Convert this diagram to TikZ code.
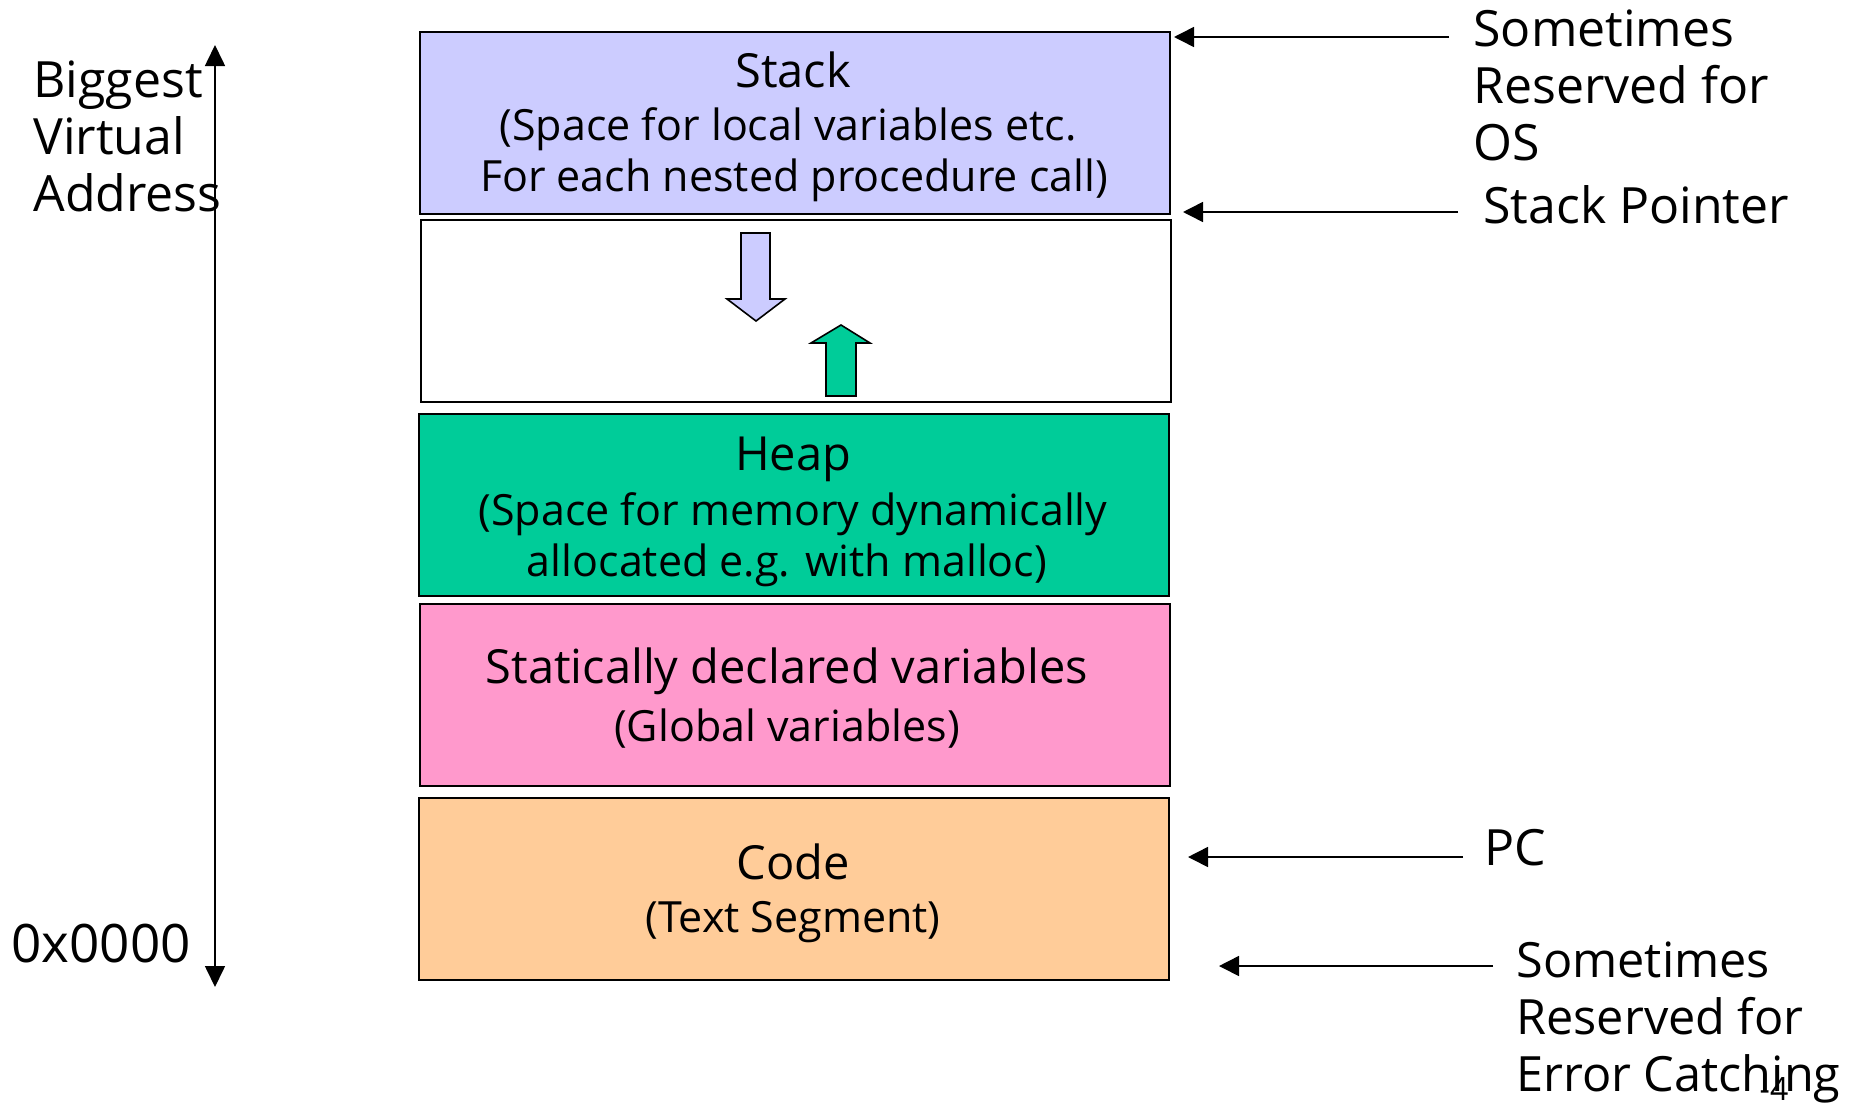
\documentclass[tikz,border=0pt]{standalone}
\usepackage{fontspec}
\setmainfont{Open Sans}
\usetikzlibrary{arrows.meta}
\definecolor{stackfill}{HTML}{CCCCFF}
\definecolor{heapfill}{HTML}{00CC99}
\definecolor{staticfill}{HTML}{FF99CC}
\definecolor{codefill}{HTML}{FFCC99}
\begin{document}
\begin{tikzpicture}[x=0.5pt,y=-0.5pt,
  segment/.style={draw=black, line width=0.8pt, minimum width=375pt, minimum height=91pt,
                  inner sep=0pt, anchor=north west},
  boxtitle/.style={inner sep=0pt, text height=16.8pt, text depth=0pt,
                   font=\fontsize{23.5}{28}\selectfont},
  boxbody/.style={inner sep=0pt, text height=15.3pt, text depth=0pt,
                  font=\fontsize{21.5}{26}\selectfont},
  side/.style={inner sep=0pt, align=left, anchor=west,
               font=\fontsize{25}{28.5}\selectfont},
  ptr/.style={line width=0.8pt, -{Triangle[length=10pt,width=10pt]}},
  blockarrow/.style={draw=black, line width=0.8pt, line join=miter}]
\useasboundingbox (0,0) rectangle (1850,1103);

% memory segments, top to bottom
\node[segment, fill=stackfill] (stack) at (419,31) {};
\node[segment, fill=white] (gap) at (420,219) {};
\node[segment, fill=heapfill] (heap) at (418,413) {};
\node[segment, fill=staticfill] (static) at (419,603) {};
\node[segment, fill=codefill] (code) at (418,797) {};

% segment texts
\node[boxtitle] (stackt) at (793,71) {Stack};
\node[boxbody] (stackb1) at (788,125) {(Space for local variables etc.};
\node[boxbody] (stackb2) at (794,176) {For each nested procedure call)};

\node[boxtitle] (heapt) at (793,454) {Heap};
\node[boxbody] (heapb1) at (793,510) {(Space for memory dynamically};
\node[boxbody] (heapb2) at (787,561) {allocated e.g. with malloc)};

\node[boxtitle] (statict) at (787,667) {Statically declared variables};
\node[boxbody] (staticb) at (787,726) {(Global variables)};

\node[boxtitle] (codet) at (793,863) {Code};
\node[boxbody] (codeb) at (793,917) {(Text Segment)};

% growth directions of stack and heap
\draw[blockarrow, fill=stackfill] (741,233) -- (770,233) -- (770,299) -- (785,299)
  -- (756,321) -- (727,299) -- (741,299) -- cycle;
\draw[blockarrow, fill=heapfill] (826,396) -- (856,396) -- (856,343) -- (870,343)
  -- (841,325) -- (811,343) -- (826,343) -- cycle;

% address axis
\coordinate (axtop) at (215,45);
\coordinate (axbot) at (215,987);
\draw[line width=0.8pt, {Triangle[length=10.5pt,width=10pt]}-{Triangle[length=10.5pt,width=10pt]}]
  (axtop) -- (axbot);
\node[side] (topnote) at (33,136) {Biggest\\Virtual\\Address};
\node[side, font=\fontsize{26.5}{28.5}\selectfont] (zeronote) at (11,944) {0x0000};

% annotations on the right
\node[side] (osnote) at (1473,85) {Sometimes\\Reserved for\\OS};
\node[side] (spnote) at (1483,205) {Stack Pointer};
\node[side] (pcnote) at (1484,848) {PC};
\node[side, font=\fontsize{24.3}{28.5}\selectfont] (errnote) at (1516,1022)
  {Sometimes\\Reserved for\\Error Catching};

\coordinate (osfrom) at (1449,37);   \coordinate (osto) at (1174,37);
\coordinate (spfrom) at (1458,212);  \coordinate (spto) at (1183,212);
\coordinate (pcfrom) at (1463,857);  \coordinate (pcto) at (1188,857);
\coordinate (errfrom) at (1493,966); \coordinate (errto) at (1219,966);
\draw[ptr] (osfrom) -- (osto);
\draw[ptr] (spfrom) -- (spto);
\draw[ptr] (pcfrom) -- (pcto);
\draw[ptr] (errfrom) -- (errto);

% slide number
\node[inner sep=0pt, font=\fontsize{16}{16}\selectfont] (pagenum) at (1774,1089) {-4};
\end{tikzpicture}
\end{document}
